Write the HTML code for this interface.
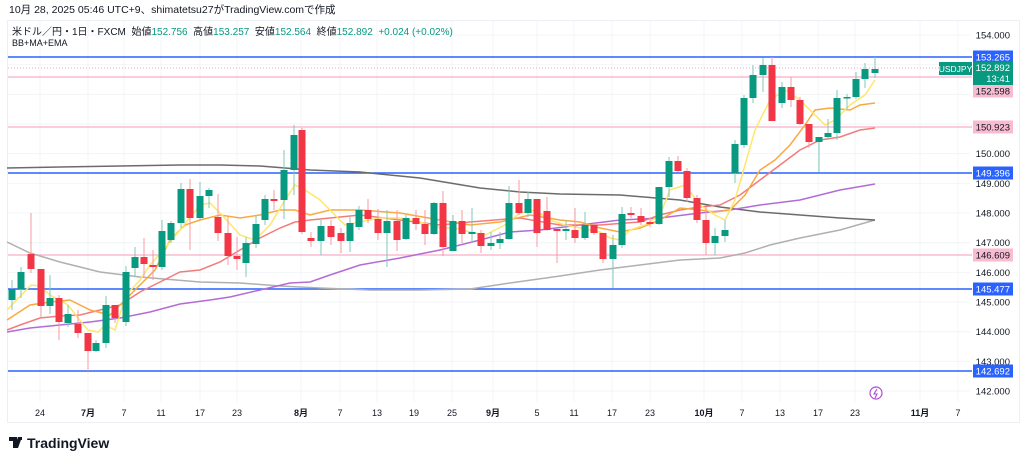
<!DOCTYPE html>
<html><head><meta charset="utf-8"><style>
body{margin:0;width:1024px;height:465px;background:#fff;overflow:hidden;font-family:"Liberation Sans","Noto Sans CJK JP",sans-serif;}
svg text{font-family:"Liberation Sans","Noto Sans CJK JP",sans-serif;}
</style></head><body>
<svg id="s" width="1024" height="465" xmlns="http://www.w3.org/2000/svg">
<text x="9" y="13" font-size="10.5" fill="#131722">10月 28, 2025 05:46 UTC+9、shimatetsu27がTradingView.comで作成</text>
<rect x="7.5" y="20.5" width="1012" height="402" fill="none" stroke="#eceff4"/>
<g id="grid" stroke="#f2f4f8" stroke-width="1"></g>
<g id="lines"></g>
<g id="ma" fill="none" stroke-width="1.5"></g>
<g id="c"></g>
<text x="12" y="35" font-size="10" fill="#131722">米ドル／円・1日・FXCM &#160;始値<tspan fill="#089981">152.756</tspan> &#160;高値<tspan fill="#089981">153.257</tspan> &#160;安値<tspan fill="#089981">152.564</tspan> &#160;終値<tspan fill="#089981">152.892</tspan> &#160;<tspan fill="#089981">+0.024 (+0.02%)</tspan></text>
<text x="12" y="46" font-size="9" fill="#131722">BB+MA+EMA</text>
<g id="ax" font-size="9.5" fill="#131722"></g>
<circle cx="876" cy="393" r="6" fill="none" stroke="#b04bd6" stroke-width="1.2"/>
<path d="M877 389 L874 394 L877 394 L875 398" fill="none" stroke="#b04bd6" stroke-width="1.1"/>
<g transform="translate(9,437)"><path d="M0 0 H8 V11 H4 V4 H0Z M9 0 H13 L9 11 H5Z" fill="#131722"/><rect x="10" y="0" width="3" height="3" fill="#131722"/></g>
<text x="27" y="448" font-size="14" font-weight="bold" fill="#131722">TradingView</text>
</svg>
<script>
const NS="http://www.w3.org/2000/svg";
function el(p,t,a,txt){const e=document.createElementNS(NS,t);for(const k in a)e.setAttribute(k,a[k]);if(txt!==undefined)e.textContent=txt;document.getElementById(p).appendChild(e);return e;}
const Y=p=>35+(154-p)*29.67;
// grid
[154,153,152,151,150,149,148,147,146,145,144,143,142].forEach(p=>el('grid','line',{x1:8,x2:970,y1:Y(p),y2:Y(p)}));
const dates=[[40,'24'],[88,'7月',1],[124,'7'],[161,'11'],[200,'17'],[237,'23'],[301,'8月',1],[340,'7'],[377,'13'],[414,'19'],[452,'25'],[493,'9月',1],[537,'5'],[574,'11'],[612,'17'],[650,'23'],[704,'10月',1],[742,'7'],[780,'13'],[818,'17'],[855,'23'],[920,'11月',1],[958,'7']];
dates.forEach(d=>{el('grid','line',{x1:d[0],x2:d[0],y1:21,y2:402});el('ax','text',{x:d[0],y:416,'text-anchor':'middle','font-weight':d[2]?'bold':'normal','font-size':9},d[1]);});
[154,150,149,148,147,146,145,144,143,142].forEach(p=>el('ax','text',{x:1010,y:Y(p)+3.5,'text-anchor':'end'},p.toFixed(3)));
// horizontal lines
[[57,'#2962ff'],[173,'#2962ff'],[289,'#2962ff'],[371,'#2962ff'],[77,'#f8bbd0'],[127,'#f8bbd0'],[255,'#f8bbd0']].forEach(l=>el('lines','line',{x1:8,x2:972,y1:l[0],y2:l[0],stroke:l[1],'stroke-width':1.5}));
el('lines','line',{x1:8,x2:940,y1:68,y2:68,stroke:'#f4a7b9','stroke-width':1,'stroke-dasharray':'1 2'});
// MAs
const ma=[
['#b0b0b0','7,242 30,253 60,262 100,272 140,277 200,282 240,283 280,286 320,288 370,290 420,290 470,289 510,283 560,276 600,270 640,265 680,260 720,258 745,253 770,245 800,238 840,230 875,220'],
['#6b6b6b','7,168 60,167 120,166 180,165 220,165 260,166 310,170 360,172 420,178 480,188 520,192 560,194 620,195 680,200 720,207 760,212 800,215 840,218 875,220'],
['#b36bd6','7,332 30,328 60,325 90,322 120,318 150,312 180,304 210,300 230,297 260,290 290,283 310,282 330,275 360,265 400,258 440,250 480,240 510,232 540,230 580,225 620,220 660,218 700,213 730,210 760,205 800,200 840,190 875,184'],
['#f27c7c','7,330 20,325 40,318 60,316 80,315 100,310 120,305 140,292 160,282 180,272 200,270 220,262 240,250 260,238 280,228 295,222 310,220 330,218 360,215 400,220 440,225 470,222 520,218 560,225 600,225 640,222 660,215 680,210 700,207 720,205 740,195 760,180 780,165 800,150 820,140 840,137 860,130 875,128'],
['#f9a942','7,320 30,305 50,302 70,300 90,310 110,315 125,300 140,285 155,270 170,240 185,225 200,220 220,215 240,218 260,215 280,210 295,210 310,215 330,210 345,210 360,210 400,213 440,220 470,225 500,222 530,215 560,220 580,222 600,228 620,232 640,228 660,220 680,208 700,210 715,212 730,210 745,195 760,170 775,160 790,145 805,125 815,110 830,108 850,110 860,105 875,103'],
['#ffe66b','7,310 31,285 40,286 50,295 68,305 78,318 88,330 98,332 105,325 115,330 126,295 140,280 150,265 165,248 180,230 200,205 210,203 222,215 240,235 255,240 270,225 285,200 295,185 305,190 320,200 330,210 345,225 360,222 380,218 400,218 420,222 440,228 455,228 470,232 485,235 505,225 520,213 535,210 550,220 565,225 580,228 600,232 610,238 620,240 630,230 645,225 660,215 670,190 685,185 700,205 715,215 725,220 735,200 745,165 755,130 770,100 785,90 800,100 815,115 825,125 835,120 850,105 865,95 875,80']];
ma.forEach(m=>el('ma','polyline',{points:m[1],stroke:m[0]}));
// candles: x, g(1 green), bodyTop, bodyBot, wickTop, wickBot
const C=[[12,1,289,300,280,310],[21,1,272,289,267,298],[31,0,254,269,213,273],[41,0,269,306,269,317],[50,1,298,306,275,314],[59,0,298,322,295,340],[68,1,314,323,305,327],[78,0,324,333,310,338],[88,0,333,351,333,371],[96,1,343,351,340,352],[106,1,305,343,296,348],[115,0,305,318,305,323],[126,1,272,322,266,326],[135,1,257,268,247,277],[144,0,257,264,238,278],[153,0,265,267,250,280],[162,1,231,267,220,270],[171,1,223,240,221,243],[181,1,189,223,183,228],[190,0,189,218,179,250],[200,1,196,218,182,220],[209,1,190,196,188,208],[218,0,217,233,194,241],[228,0,233,256,217,265],[237,0,256,259,237,270],[246,1,243,263,237,277],[256,1,224,244,216,248],[265,1,199,220,195,225],[274,0,199,201,190,210],[284,1,170,200,150,219],[294,1,135,170,125,195],[302,0,130,232,128,234],[311,0,238,241,232,247],[321,1,226,241,220,255],[331,0,226,237,220,245],
[341,0,233,241,228,253],[350,1,223,241,217,252],[359,1,210,227,206,230],[368,0,210,219,199,223],[378,0,219,233,209,240],[387,1,221,233,210,267],[397,0,221,240,210,251],[406,1,218,239,215,240],[416,0,218,224,210,230],[425,0,224,234,210,245],[434,1,203,234,202,235],[443,0,203,247,191,256],[453,1,221,251,215,251],[462,0,221,234,210,243],[472,1,232,234,208,243],[481,0,233,246,230,253],[491,1,243,246,232,250],[500,1,239,243,232,249],[509,1,203,239,186,240],[519,0,203,213,180,215],[528,1,199,213,192,217],[537,0,199,233,199,247],[547,0,211,230,197,231],[557,0,229,231,230,263],[566,1,229,231,220,240],[575,0,230,238,208,243],[585,1,225,238,212,240],[594,0,225,233,222,235],[603,0,233,259,233,263],[613,1,245,259,235,288],[622,1,214,245,207,248],[631,0,213,215,207,218],[641,0,216,222,208,225],[650,0,222,224,218,227],[659,1,187,224,187,225],
[669,1,161,187,157,197],[678,0,161,171,156,172],[687,0,171,198,168,202],[697,0,198,220,195,223],[706,0,220,243,207,255],[715,1,236,243,228,255],[725,1,230,236,220,242],[735,1,144,173,140,183],[744,1,98,145,95,148],[753,1,75,98,65,103],[763,1,65,75,58,92],[772,0,65,121,57,121],[782,1,87,103,82,108],[791,0,87,100,77,107],[800,0,100,124,97,125],[809,0,124,142,124,148],[819,1,137,142,137,172],[828,1,133,137,119,140],[837,1,98,133,90,140],[847,1,97,98,94,110],[856,1,79,97,72,99],[865,1,69,79,63,88],[875,1,69,73,57,78]];
C.forEach(c=>{const col=c[1]?'#089981':'#f23645';const w=c[1]?'#7fc8b8':'#f79aa2';
el('c','line',{x1:c[0],x2:c[0],y1:c[4],y2:c[5],stroke:w,'stroke-width':1});
el('c','rect',{x:c[0]-3.5,y:c[2],width:7,height:Math.max(1.5,c[3]-c[2]),fill:col});});
// right labels
function lab(y,bg,fg,t){el('ax','rect',{x:973,y:y-6.5,width:40,height:13,fill:bg});el('ax','text',{x:1010,y:y+3.5,'text-anchor':'end',fill:fg},t);}
lab(57,'#2962ff','#fff','153.265');lab(91,'#f8bbd0','#131722','152.598');lab(127,'#f8bbd0','#131722','150.923');
lab(173,'#2962ff','#fff','149.396');lab(255,'#f8bbd0','#131722','146.609');lab(289,'#2962ff','#fff','145.477');lab(371,'#2962ff','#fff','142.692');
el('ax','rect',{x:973,y:62,width:40,height:23,fill:'#089981'});
el('ax','text',{x:1010,y:71,'text-anchor':'end',fill:'#fff'},'152.892');
el('ax','text',{x:1010,y:82,'text-anchor':'end',fill:'#fff'},'13:41');
el('ax','rect',{x:939,y:62,width:33,height:13,fill:'#089981'});
el('ax','text',{x:955.5,y:72,'text-anchor':'middle',fill:'#fff','font-size':8.5},'USDJPY');
</script>
</body></html>
